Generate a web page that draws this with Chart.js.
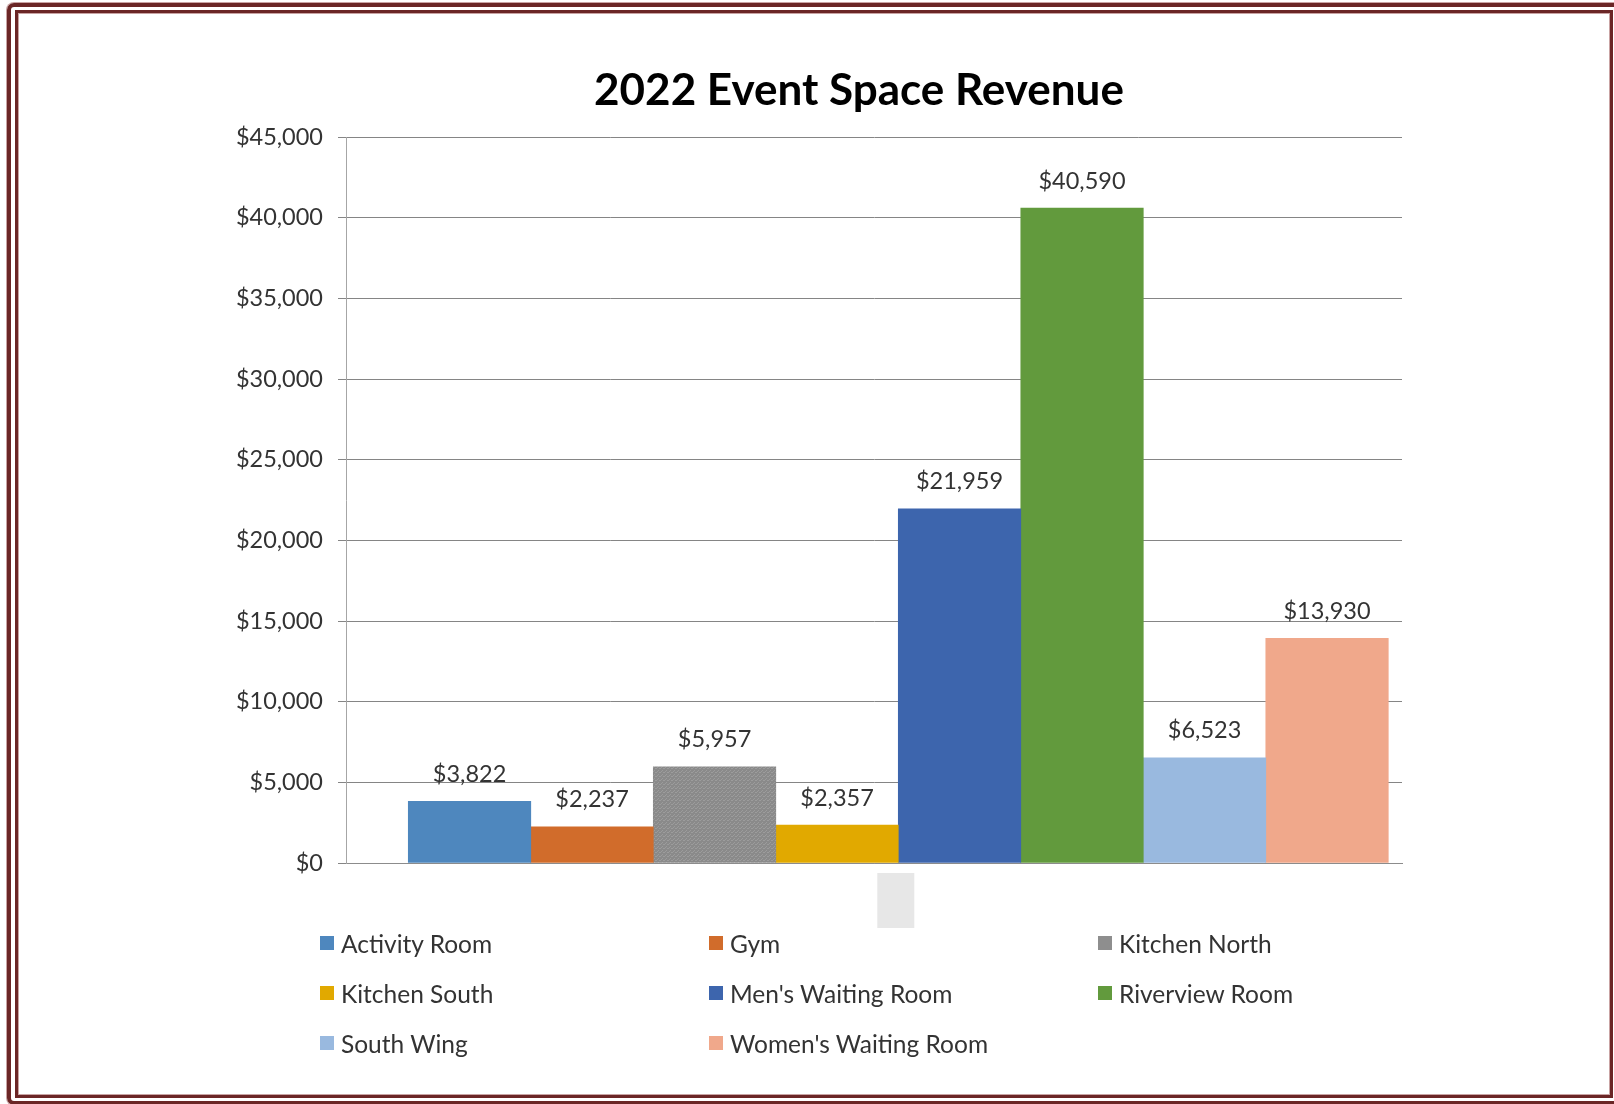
<!DOCTYPE html>
<html>
<head>
<meta charset="utf-8">
<title>2022 Event Space Revenue</title>
<script src="https://cdn.jsdelivr.net/npm/chart.js@4.4.1/dist/chart.umd.min.js"></script>
<style>
  html, body { margin: 0; padding: 0; background: #fff; overflow: hidden; }
  #wrap { position: relative; width: 1614px; height: 1104px; overflow: hidden; background: #fff; }
  #chart { position: absolute; left: 0; top: 0; }
  #title { position: absolute; left: 459px; width: 800px; top: 66px; height: 44px; line-height: 44px;
    text-align: center; font-family: Lato, sans-serif; font-weight: bold; font-size: 44px; color: #000; }
  .frame-outer { position: absolute; left: 7px; top: 3px; width: 1620px; height: 1094px;
    border: 4px solid #6b2626; border-radius: 7px; box-shadow: 0 0 0 1px #c9a3a3; }
  .frame-inner { position: absolute; left: 15px; top: 10px; width: 1592px; height: 1082px;
    border: 3px solid #6b2626; box-shadow: inset 0 0 0 1px #c9a3a3; }
  #legend { position: absolute; left: 320px; top: 928px; display: grid;
    grid-template-columns: 389px 389px 389px; grid-auto-rows: 50px;
    font-family: Lato, sans-serif; font-size: 24.5px; color: #333; }
  #legend .item { display: flex; align-items: center; height: 30px; }
  #legend .box { width: 14px; height: 14px; margin-right: 7px; flex: none; }
</style>
</head>
<body>
<div id="wrap">
  <canvas id="chart" width="1614" height="1104"></canvas>
  <div id="title">2022 Event Space Revenue</div>
  <div id="legend"></div>
  <div class="frame-outer"></div>
  <div class="frame-inner"></div>
</div>
<script>
// chart data
const categories = ['Activity Room', 'Gym', 'Kitchen North', 'Kitchen South',
  "Men's Waiting Room", 'Riverview Room', 'South Wing', "Women's Waiting Room"];
const revenue = [3822, 2237, 5957, 2357, 21959, 40590, 6523, 13930];
const yTickValues = [0, 5000, 10000, 15000, 20000, 25000, 30000, 35000, 40000, 45000];

const colors = ['#4e87be', '#d16c2b', '#8e8e8e', '#e1a900', '#3d65ad', '#629a3d', '#99b9df', '#f0a88b'];

function money(v) {
    return '$' + Number(v).toLocaleString('en-US');
}

// Kitchen North uses a fine dotted texture
function grayPattern() {
    var c = document.createElement('canvas');
    c.width = 4; c.height = 4;
    var g = c.getContext('2d');
    g.fillStyle = '#8a8a8a';
    g.fillRect(0, 0, 4, 4);
    g.fillStyle = '#9c9c9c';
    g.fillRect(0, 0, 1, 1);
    g.fillRect(2, 2, 1, 1);
    g.fillRect(3, 0, 1, 1);
    g.fillRect(1, 3, 1, 1);
    return g.createPattern(c, 'repeat');
}

var datasets = categories.map(function (name, i) {
    return {
        label: name,
        data: [{x: 0, y: revenue[i]}],
        backgroundColor: i === 2 ? grayPattern() : colors[i],
        borderWidth: 0,
        barThickness: 122.5
    };
});

var valueLabels = {
    id: 'valueLabels',
    afterDatasetsDraw: function (chart) {
        var ctx = chart.ctx;
        ctx.save();
        ctx.font = '23.5px Lato, sans-serif';
        ctx.fillStyle = '#333';
        ctx.textAlign = 'center';
        ctx.textBaseline = 'middle';
        chart.data.datasets.forEach(function (ds, i) {
            var bar = chart.getDatasetMeta(i).data[0];
            ctx.fillText(money(ds.data[0].y), bar.x, bar.y - 27);
        });
        ctx.restore();
    }
};

// the light grey category-label cell under the axis
var labelCell = {
    id: 'labelCell',
    afterDraw: function (chart) {
        var ctx = chart.ctx;
        var cx = chart.scales.x.getPixelForValue(0) - 3;
        ctx.save();
        ctx.fillStyle = '#e7e7e7';
        ctx.fillRect(cx - 18, chart.chartArea.bottom + 10, 37, 55);
        ctx.restore();
    }
};

var chart = new Chart(document.getElementById('chart'), {
    type: 'bar',
    data: { datasets: datasets },
    plugins: [valueLabels, labelCell],
    options: {
        responsive: false,
        animation: false,
        layout: { padding: { left: 230, right: 212, top: 137, bottom: 233 } },
        plugins: {
            legend: { display: false },
            tooltip: { enabled: false }
        },
        scales: {
            x: {
                type: 'linear',
                offset: false,
                min: -0.523,
                max: 0.477,
                afterBuildTicks: function (s) { s.ticks = [{value: 0}]; },
                afterFit: function (s) { s.height = 8; },
                ticks: { display: false },
                grid: { display: false },
                border: { display: true, color: '#8c8c8c', width: 1 }
            },
            y: {
                min: 0,
                max: 45000,
                afterBuildTicks: function (s) { s.ticks = yTickValues.map(function (v) { return {value: v}; }); },
                afterFit: function (s) { s.width = 116; },
                ticks: {
                    callback: function (v) { return money(v); },
                    color: '#333',
                    padding: 15,
                    font: { family: 'Lato, sans-serif', size: 23.5 }
                },
                grid: { color: '#858585', tickLength: 8, lineWidth: 1 },
                border: { color: '#a6a6a6', width: 1 }
            }
        }
    }
});

// legend in three fixed columns, like the original
var legend = document.getElementById('legend');
categories.forEach(function (name, i) {
    var item = document.createElement('div');
    item.className = 'item';
    var box = document.createElement('span');
    box.className = 'box';
    box.style.background = colors[i];
    var txt = document.createElement('span');
    txt.textContent = name;
    item.appendChild(box);
    item.appendChild(txt);
    legend.appendChild(item);
});
</script>
</body>
</html>
